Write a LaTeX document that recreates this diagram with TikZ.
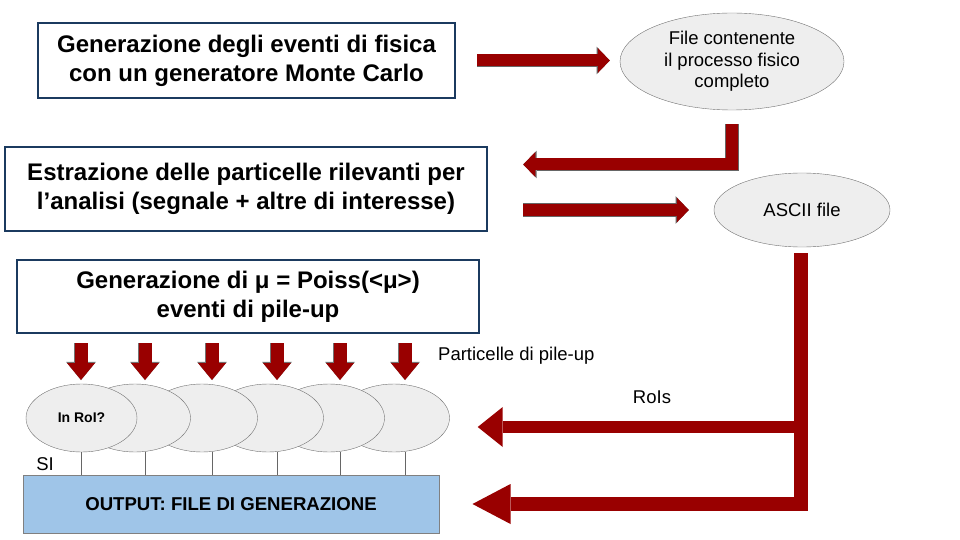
\documentclass[tikz,border=0pt]{standalone}
\usepackage{fontspec}
\setmainfont{Liberation Sans}
\usetikzlibrary{shapes.geometric,arrows.meta}
\definecolor{boxblue}{HTML}{1B3A5F}
\definecolor{flowred}{HTML}{990000}
\definecolor{bubblegray}{HTML}{EEEEEE}
\definecolor{outblue}{HTML}{9FC5E8}
\tikzset{
  stepbox/.style={draw=boxblue, line width=2.5pt, fill=white, align=center, inner sep=0pt,
    font=\fontsize{24}{29}\selectfont\bfseries},
  bubble/.style={ellipse, draw=black!55, fill=bubblegray, inner sep=0pt, align=center,
    font=\fontsize{18.5}{21.5}\selectfont},
  flow/.style={draw=flowred, line width=12pt, line join=miter,
    -{Triangle[width=25pt,length=12pt,line width=0pt]},
    preaction={draw=black!60, line width=13.4pt, -{Triangle[width=27.6pt,length=13.3pt,line width=0pt]}}},
  bigflow/.style={draw=flowred, line width=#1, line join=miter},
  drop/.style={draw=flowred, line width=13pt, -{Triangle[width=28pt,length=17pt,line width=0pt]},
    preaction={draw=black!55, line width=14.2pt, -{Triangle[width=30pt,length=18.2pt,line width=0pt]}}},
  tie/.style={draw=black!60, line width=0.8pt},
  lbl/.style={inner sep=0pt, font=\fontsize{18.5}{21.5}\selectfont}
}
\begin{document}
\begin{tikzpicture}[x=1pt, y=-1pt]
\useasboundingbox (0,0) rectangle (960,540);

% blocchi principali
\node[stepbox, minimum width=417pt, minimum height=75pt] (gen) at (246.5,60.5)
  {Generazione degli eventi di fisica\\con un generatore Monte Carlo};
\node[stepbox, minimum width=482pt, minimum height=84pt] (extract) at (246,189)
  {Estrazione delle particelle rilevanti per\\l’analisi (segnale + altre di interesse)};
\node[stepbox, minimum width=462pt, minimum height=73pt] (pile) at (248,296.5)
  {Generazione di μ = Poiss(<μ>)\\eventi di pile-up};

\node[bubble, minimum width=224pt, minimum height=97pt] (proc) at (732,61.5)
  {File contenente\\il processo fisico\\completo};
\node[bubble, minimum width=176pt, minimum height=74pt] (ascii) at (802,210) {ASCII file};

\draw[flow, shorten <=21pt, shorten >=10pt] (gen.east) -- (gen.east -| proc.west);
\draw[flow] ([yshift=-14pt]proc.south) |- ([xshift=35pt,yshift=24.5pt]extract.east);
\draw[flow, shorten <=35pt, shorten >=25pt] (extract.east |- ascii.west) -- (ascii.west);

% pile-up
\node[draw=black!50, line width=1pt, fill=outblue, minimum width=416pt, minimum height=58pt,
  font=\fontsize{18.6}{22}\selectfont\bfseries] (output) at (231,504) {OUTPUT: FILE DI GENERAZIONE};

\foreach \i/\c in {6/394, 5/329, 4/268, 3/202, 2/135}{
\node[bubble, minimum width=111pt, minimum height=68pt] (b\i) at (\c,418) {};
}
\node[bubble, minimum width=111pt, minimum height=68pt, font=\fontsize{14}{16}\selectfont\bfseries] (b1) at (81.5,418) {In RoI?};

\foreach \x in {81, 145, 212, 277, 340, 405}{
\draw[drop] (\x,0 |- pile.south) ++(0,9) -- (\x,380);
\draw[tie] (\x,452) -- (\x,0 |- output.north);
}

\node[lbl, anchor=west] (pulab) at (438,356) {Particelle di pile-up};
\node[lbl] (si) at (45,464) {SI};

\coordinate (rois) at (801,427);
\draw[bigflow=14pt, -{Triangle[width=40pt,length=38pt,line width=0pt]}]
  ([yshift=-6pt]ascii.south -| rois) |- ([xshift=33pt]output.east);
\draw[bigflow=12pt, -{Triangle[width=40pt,length=25pt,line width=0pt]}]
  (rois) -- ([xshift=28pt,yshift=-9pt]b6.east);
\node[lbl] (roilab) at (652,397) {RoIs};
\end{tikzpicture}
\end{document}
